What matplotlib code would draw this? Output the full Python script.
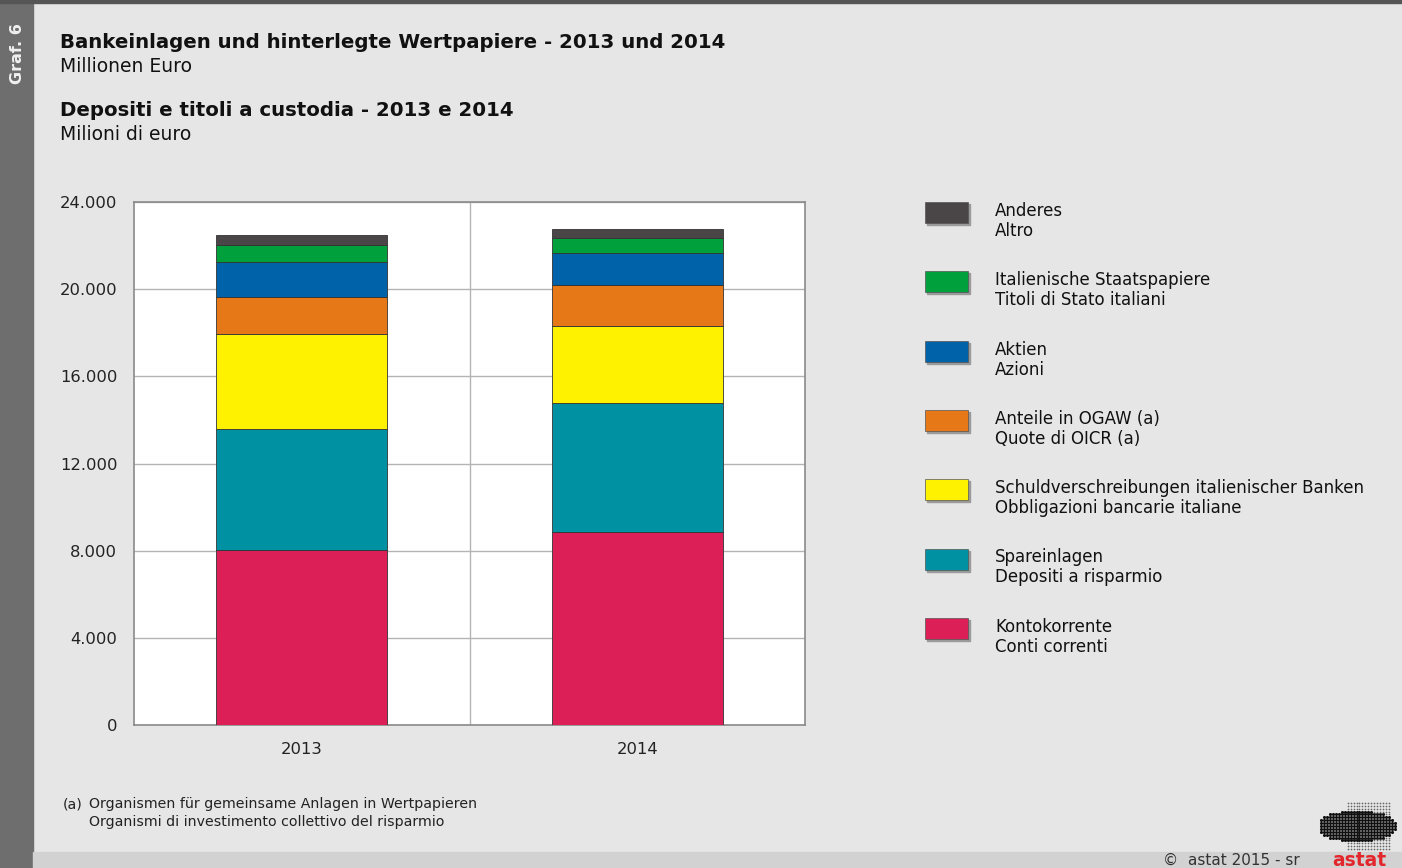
import numpy as np
import matplotlib.pyplot as plt
from matplotlib.patches import Rectangle

plt.rcParams['font.family'] = ['DejaVu Sans']

years = ['2013', '2014']
# stacking order bottom -> top
series_de = ['Kontokorrente', 'Spareinlagen', 'Schuldverschreibungen italienischer Banken',
             'Anteile in OGAW (a)', 'Aktien', 'Italienische Staatspapiere', 'Anderes']
series_it = ['Conti correnti', 'Depositi a risparmio', 'Obbligazioni bancarie italiane',
             'Quote di OICR (a)', 'Azioni', 'Titoli di Stato italiani', 'Altro']
kontokorrente = [8050, 8870]
spareinlagen = [5530, 5920]
schuldverschreibungen = [4350, 3520]
ogaw = [1730, 1880]
aktien = [1570, 1460]
staatspapiere = [800, 710]
anderes = [460, 390]
colors = ['#dc1f56', '#0092a3', '#fff200', '#e67817', '#0062a9', '#00a03c', '#4a4546']

values = [kontokorrente, spareinlagen, schuldverschreibungen, ogaw, aktien, staatspapiere, anderes]

W, H = 1402, 868
fig = plt.figure(figsize=(W / 100, H / 100), dpi=100)
fig.patch.set_facecolor('#e6e6e6')

# frame decorations
fig.patches.append(Rectangle((0, 0), 33 / W, 1, transform=fig.transFigure, color='#6e6e6e', zorder=0))
fig.patches.append(Rectangle((33 / W, 0), 1, 16 / H, transform=fig.transFigure, color='#d2d2d2', zorder=0))
fig.patches.append(Rectangle((0, 1 - 3 / H), 1, 3 / H, transform=fig.transFigure, color='#555555', zorder=0))
fig.text(18 / W, 1 - 54 / H, 'Graf. 6', rotation=90, color='#f0f0f0', fontsize=11.5, fontweight='bold',
         ha='center', va='center')

fig.text(60 / W, 1 - 48 / H, 'Bankeinlagen und hinterlegte Wertpapiere - 2013 und 2014',
         fontsize=14.2, fontweight='bold', color='#111111', va='baseline')
fig.text(60 / W, 1 - 72 / H, 'Millionen Euro', fontsize=13.5, color='#111111', va='baseline')
fig.text(60 / W, 1 - 116 / H, 'Depositi e titoli a custodia - 2013 e 2014',
         fontsize=14.2, fontweight='bold', color='#111111', va='baseline')
fig.text(60 / W, 1 - 140 / H, 'Milioni di euro', fontsize=13.5, color='#111111', va='baseline')

ax = fig.add_axes([134 / W, 143 / H, 671 / W, 523 / H])
ax.set_facecolor('white')
x = np.arange(len(years))
bottom = np.zeros(len(years))
for vals, c in zip(values, colors):
    ax.bar(x, vals, 0.51, bottom=bottom, color=c, edgecolor='#333333', linewidth=0.6, zorder=3)
    bottom += np.array(vals)

ax.set_xlim(-0.5, 1.5)
ax.set_ylim(0, 24000)
ax.set_yticks(np.arange(0, 24001, 4000))
ax.set_yticklabels([f'{v:,}'.replace(',', '.') for v in range(0, 24001, 4000)])
ax.set_xticks(x)
ax.set_xticklabels(years)
ax.tick_params(length=0, labelsize=11.8, colors='#222222')
ax.tick_params(axis='y', pad=12)
ax.tick_params(axis='x', pad=12)
ax.grid(axis='y', color='#b4b4b4', linewidth=1, zorder=1)
ax.axvline(0.5, color='#b4b4b4', linewidth=1, zorder=1)
for s in ax.spines.values():
    s.set_color('#8a8a8a')
    s.set_linewidth(1.2)

# legend (top -> bottom)
for i, k in enumerate(range(len(series_de) - 1, -1, -1)):
    yc = 213 + i * 69.3
    fig.patches.append(Rectangle(((925 + 2) / W, 1 - (yc + 12) / H), 43 / W, 21 / H,
                                 transform=fig.transFigure, color='#9a9a9a', zorder=1))
    fig.patches.append(Rectangle((925 / W, 1 - (yc + 10) / H), 43 / W, 21 / H,
                                 transform=fig.transFigure, facecolor=colors[k],
                                 edgecolor='#555555', linewidth=0.5, zorder=2))
    fig.text(995 / W, 1 - (yc + 3) / H, series_de[k], fontsize=12, color='#111111', va='baseline')
    fig.text(995 / W, 1 - (yc + 23) / H, series_it[k], fontsize=12, color='#111111', va='baseline')

# footnote
fig.text(63 / W, 1 - 808 / H, '(a)', fontsize=10.2, color='#222222', va='baseline')
fig.text(89 / W, 1 - 808 / H, 'Organismen für gemeinsame Anlagen in Wertpapieren',
         fontsize=10.2, color='#222222', va='baseline')
fig.text(89 / W, 1 - 826 / H, 'Organismi di investimento collettivo del risparmio',
         fontsize=10.2, color='#222222', va='baseline')

# copyright + logo
fig.text(1300 / W, 1 - 865 / H, '©  astat 2015 - sr', fontsize=11, color='#333333',
         ha='right', va='baseline')
fig.text(1359 / W, 1 - 866 / H, 'astat', fontsize=13.5, fontweight='bold', color='#e3262b',
         ha='center', va='baseline')
lax = fig.add_axes([1318 / W, 1 - 852 / H, 80 / W, 52 / H])
lax.set_axis_off()
gx, gy = np.meshgrid(np.arange(0, 26), np.arange(0, 17))
gx, gy = gx.ravel(), gy.ravel()
blob = ((gx - 12) / 13.5) ** 2 + ((gy - 8) / 5.5) ** 2 < 1
lax.scatter(gx[blob], gy[blob], s=5, color='#111111', marker='o', linewidths=0)
rest = ~blob & (gx > 8) & (gx < 24)
lax.scatter(gx[rest], gy[rest], s=1.5, color='#666666', linewidths=0)
lax.set_xlim(-1, 26)
lax.set_ylim(-1, 17)

fig.savefig('out.png', dpi=100, facecolor=fig.get_facecolor())
